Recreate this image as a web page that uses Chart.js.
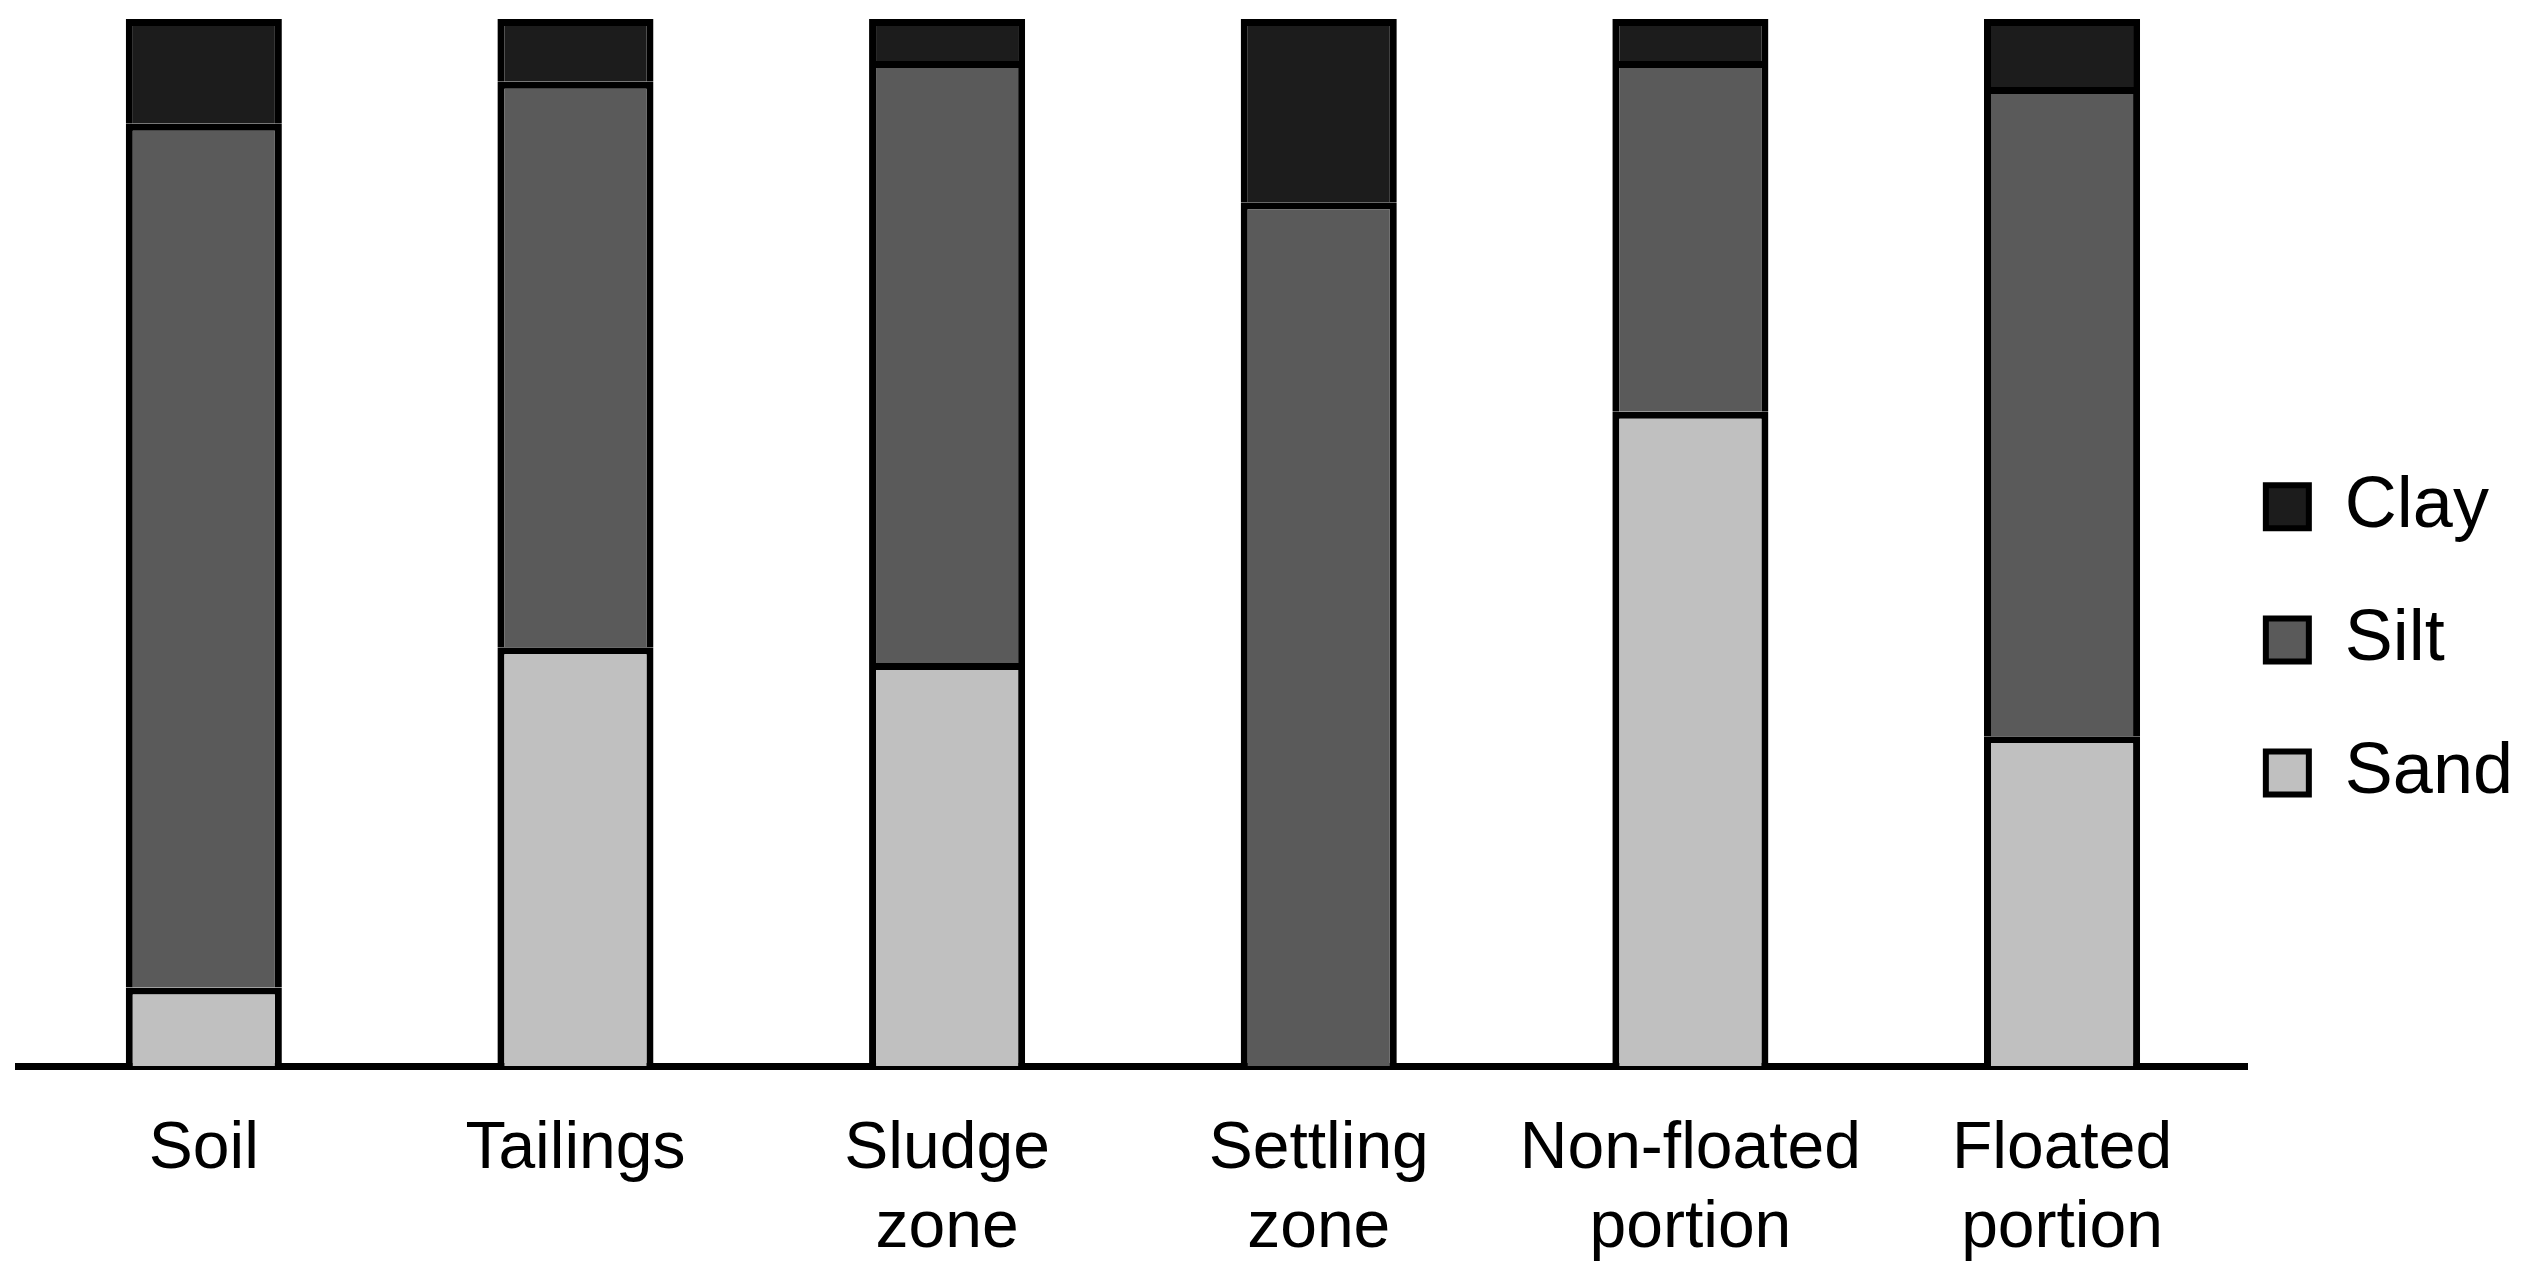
<!DOCTYPE html>
<html>
<head>
<meta charset="utf-8">
<script src="https://cdn.jsdelivr.net/npm/chart.js@4/dist/chart.umd.min.js"></script>
<style>
  html, body { margin: 0; padding: 0; background: #ffffff; }
  #wrap { width: 2523px; height: 1272px; position: relative; }
</style>
</head>
<body>
<div id="wrap"><canvas id="textureChart"></canvas></div>
<script>
// data (% of each sample)
var samples = [
  ["Soil"],
  ["Tailings"],
  ["Sludge", "zone"],
  ["Settling", "zone"],
  ["Non-floated", "portion"],
  ["Floated", "portion"]
];
var sand = [7.5, 40, 38.5, 0, 62.5, 31.5];
var silt = [82.5, 54, 57.5, 82.5, 33.5, 62];
var clay = [10, 6, 4, 17.5, 4, 6.5];

var fontFamily = "'Liberation Sans', Arial, sans-serif";

var textureChart = document.getElementById("textureChart");
var textureChartConfig = {
  type: 'bar',
  data: {
    labels: samples,
    datasets: [{
      label: 'Sand',
      data: sand,
      backgroundColor: '#c0c0c0'
    }, {
      label: 'Silt',
      data: silt,
      backgroundColor: '#5a5a5a'
    }, {
      label: 'Clay',
      data: clay,
      backgroundColor: '#1c1c1c'
    }]
  },
  options: {
    responsive: true,
    maintainAspectRatio: false,
    devicePixelRatio: 1,
    animation: false,
    layout: {
      padding: { left: 18, top: 19, right: 0, bottom: 6 }
    },
    datasets: {
      bar: {
        borderColor: '#000000',
        borderWidth: 7,
        categoryPercentage: 1.0,
        barPercentage: 0.42
      }
    },
    scales: {
      x: {
        stacked: true,
        grid: { display: false, drawTicks: false },
        border: { display: true, color: '#000000', width: 7 },
        ticks: {
          color: '#000000',
          padding: 44,
          maxRotation: 0,
          autoSkip: false,
          font: { family: fontFamily, size: 66 }
        },
        // chart.js counts tick padding twice in the axis height
        afterFit: function(scale) {
          scale.height = 200;
        }
      },
      y: {
        stacked: true,
        display: false,
        min: 0,
        max: 100
      }
    },
    plugins: {
      tooltip: { enabled: false },
      legend: {
        position: 'right',
        align: 'center',
        reverse: true,
        title: {
          display: true,
          text: ' ',
          font: { size: 10, lineHeight: 1 },
          padding: 14
        },
        labels: {
          color: '#000000',
          boxWidth: 43,
          boxHeight: 43,
          padding: 18,
          font: { family: fontFamily, size: 72, lineHeight: 1.6 },
          generateLabels: function(chart) {
            var items = Chart.defaults.plugins.legend.labels.generateLabels(chart);
            items.forEach(function(it) {
              it.text = [it.text];
              it.lineWidth = 6;
              it.strokeStyle = '#000000';
            });
            return items;
          }
        }
      }
    }
  }
};
var textureChartObj = new Chart(textureChart, textureChartConfig);
</script>
</body>
</html>
